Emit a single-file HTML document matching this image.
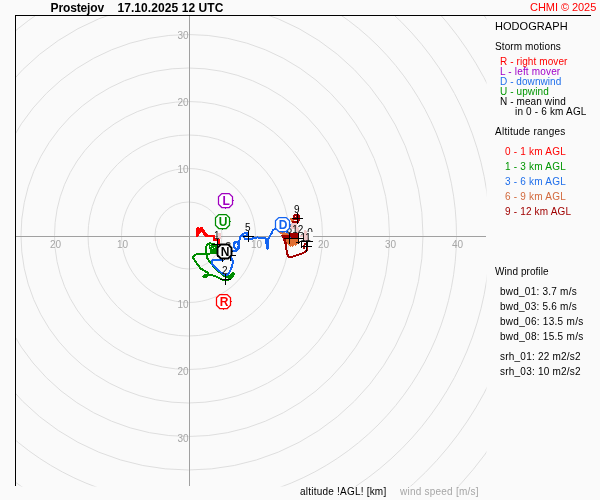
<!DOCTYPE html>
<html lang="cs">
<head>
<meta charset="utf-8">
<title>Hodograph Prostejov</title>
<style>
html,body{margin:0;padding:0;background:#fafafa;}
body{width:600px;height:500px;overflow:hidden;}
svg{display:block;font-family:"Liberation Sans",sans-serif;}
text{white-space:pre;}
</style>
</head>
<body>
<svg width="600" height="500" viewBox="0 0 600 500">
<rect x="0" y="0" width="600" height="500" fill="#fafafa"/>
<defs><clipPath id="plot"><rect x="16" y="16" width="470.5" height="470.5"/></clipPath></defs>
<g clip-path="url(#plot)" fill="none" stroke="#dedede" stroke-width="1">
<circle cx="188.5" cy="235.5" r="33.50"/>
<circle cx="188.5" cy="235.5" r="67.00"/>
<circle cx="188.5" cy="235.5" r="100.50"/>
<circle cx="188.5" cy="235.5" r="134.00"/>
<circle cx="188.5" cy="235.5" r="167.50"/>
<circle cx="188.5" cy="235.5" r="201.00"/>
<circle cx="188.5" cy="235.5" r="234.50"/>
<circle cx="188.5" cy="235.5" r="268.00"/>
<circle cx="188.5" cy="235.5" r="301.50"/>
<circle cx="188.5" cy="235.5" r="335.00"/>
<circle cx="188.5" cy="235.5" r="368.50"/>
<circle cx="188.5" cy="235.5" r="402.00"/>
</g>
<g stroke="#a0a0a0" stroke-width="1" shape-rendering="crispEdges">
<line x1="16" y1="236.5" x2="486" y2="236.5"/>
<line x1="189.5" y1="16" x2="189.5" y2="486"/>
</g>
<g>
<text x="55.5" y="248" font-size="10px" fill="#a6a6a6" text-anchor="middle">20</text>
<text x="122.5" y="248" font-size="10px" fill="#a6a6a6" text-anchor="middle">10</text>
<text x="256.5" y="248" font-size="10px" fill="#a6a6a6" text-anchor="middle">10</text>
<text x="323.5" y="248" font-size="10px" fill="#a6a6a6" text-anchor="middle">20</text>
<text x="390.5" y="248" font-size="10px" fill="#a6a6a6" text-anchor="middle">30</text>
<text x="457.5" y="248" font-size="10px" fill="#a6a6a6" text-anchor="middle">40</text>
<text x="188.6" y="39" font-size="10px" fill="#a6a6a6" text-anchor="end">30</text>
<text x="188.6" y="106" font-size="10px" fill="#a6a6a6" text-anchor="end">20</text>
<text x="188.6" y="173" font-size="10px" fill="#a6a6a6" text-anchor="end">10</text>
<text x="188.6" y="308" font-size="10px" fill="#a6a6a6" text-anchor="end">10</text>
<text x="188.6" y="375" font-size="10px" fill="#a6a6a6" text-anchor="end">20</text>
<text x="188.6" y="442" font-size="10px" fill="#a6a6a6" text-anchor="end">30</text>
</g>
<g>
<polygon points="217.5,233 221,233 221,239 217.5,239" fill="#f0c8c8" stroke="none" shape-rendering="crispEdges" />
<polygon points="196,236.5 196,230 197,227 199,227 199.7,228.3 200.3,227 202.5,227 204,229.5 208,235 214,235 215,236 215,239 220,239 220,244.5 218,244.5 217.5,241 213,241 213,237 205.5,237 203.5,234.5 201.5,231.7 198,236.5" fill="#ff0000" stroke="none" shape-rendering="crispEdges" />
<polyline points="217,245 213,244 210,243.3 207.3,244.5 206.2,247 206.2,253 207.2,258 209.3,261.5 212,264.5 216,269 221,273.5 225,276.5 229,276.5 233.5,273" fill="none" stroke="#008c00" stroke-width="2" stroke-linejoin="round" stroke-linecap="round" shape-rendering="crispEdges" />
<polygon points="209,244.5 216.8,245 216.8,253.5 211.5,253.5 209.8,251 209.3,247" fill="#008c00" stroke="none" shape-rendering="crispEdges" />
<polygon points="210,246.3 211,246.3 211,247.3 210,247.3" fill="#fafafa" stroke="none" shape-rendering="crispEdges" />
<polygon points="212.3,248.3 213.3,248.3 213.3,249.3 212.3,249.3" fill="#fafafa" stroke="none" shape-rendering="crispEdges" />
<polygon points="214.3,246.6 215.3,246.6 215.3,247.6 214.3,247.6" fill="#fafafa" stroke="none" shape-rendering="crispEdges" />
<polyline points="216.5,252.5 210,253.5 203,254 196,254.5 193,256.5 193.5,258.5 195,261 198,265 200.5,268.5 204,270.5 207.5,272.5 208,274.5 205,275 203.5,276.5 206,277 208,275 213,275.5 216,276.5 219,278 222,279.5 228,280 231,278 233.5,274.5 233.5,272.5" fill="none" stroke="#008c00" stroke-width="2" stroke-linejoin="round" stroke-linecap="round" shape-rendering="crispEdges" />
<polygon points="227.5,276 233.5,272 234.5,276 231,279" fill="#008c00" stroke="none" shape-rendering="crispEdges" />
<polygon points="203,275 208,274 208,277 203,277.5" fill="#008c00" stroke="none" shape-rendering="crispEdges" />
<polyline points="222.5,260.5 218,259.5 214,259.5 211.5,261 211.5,264 216,268 221,272.5 224,274.5 228,274.5 230,271 232,266.5 233,262 232,259 230.5,256.5 227,253 231,251 236,251 238.5,248.5 239.3,245 238,242.5 236,241.5 234,243 234,247 236.5,249.5 238.5,248.5" fill="none" stroke="#1464f0" stroke-width="2" stroke-linejoin="round" stroke-linecap="round" shape-rendering="crispEdges" />
<polyline points="234.6,243.5 234.6,247 236.5,248.8 238,248 238.5,245 237.5,243 236,242.3 234.6,243.5" fill="none" stroke="#1464f0" stroke-width="1.6" stroke-linejoin="round" stroke-linecap="round" shape-rendering="crispEdges" />
<polyline points="238.5,243 239.5,240 240.5,236.5 242.5,234 246,232.8 247.8,233.8 246.5,236.3 243.5,236.5 245,239 250.5,239.3 254,238 258,237.4 261,238.3 265,238.3 267,240 266.5,245 267,248.5 267.6,248.5 267.6,240 266.4,240.5 266.4,244 267,240 269,238 272,232.5 273,230 275.5,228.5 283,226 290,237.5" fill="none" stroke="#1464f0" stroke-width="2" stroke-linejoin="round" stroke-linecap="round" shape-rendering="crispEdges" />
<polygon points="278,231.5 283,232 288.5,233.5 288.5,235.2 283,235.2 279.5,233.5" fill="#e06e32" stroke="none" shape-rendering="crispEdges" />
<polygon points="284,238 300,238 300,243 297,244 296,246 294,245 293,247.5 291,246 290,247 288,244.5 286,244 285,241" fill="#e06e32" stroke="none" shape-rendering="crispEdges" />
<polygon points="290,218 293.5,218 293.5,222.5 291,222" fill="#e06e32" stroke="none" shape-rendering="crispEdges" />
<polygon points="293.5,213.7 298.5,213.7 298.5,215 300,215 300,221 299,221 299,222.5 291.5,222.5 291.5,220.5 296.5,220.5 296.5,219.5 293,219.5 293,215 293.5,215" fill="#a00000" stroke="none" shape-rendering="crispEdges" />
<polygon points="295,216 296,216 296,217 295,217" fill="#fafafa" stroke="none" shape-rendering="crispEdges" />
<polygon points="281,234.8 289.2,235.2 289.2,237.6 286,238 286.5,242 287.5,247 285.5,247 284,243 282.5,238" fill="#a00000" stroke="none" shape-rendering="crispEdges" />
<polyline points="286,246 287,253.5 288.5,256.5 293,256.5 296,255.5 301,254 305,252 307,250 307.5,246 305,243.5 304,246 304.5,248.5" fill="none" stroke="#a00000" stroke-width="2" stroke-linejoin="round" stroke-linecap="round" shape-rendering="crispEdges" />
<polygon points="290,233 298,233 298.5,237.5 290.5,237.5" fill="#a00000" stroke="none" shape-rendering="crispEdges" />
<polygon points="290,237 291.2,237 291.2,238.2 290,238.2" fill="#1464f0" stroke="none" shape-rendering="crispEdges" />
<path d="M212.0,244.5H223.0M217.5,239.0V250.0" stroke="#000" stroke-width="1" fill="none" shape-rendering="crispEdges"/>
<path d="M220.0,279.5H231.0M225.5,274.0V285.0" stroke="#000" stroke-width="1" fill="none" shape-rendering="crispEdges"/>
<path d="M225.0,255.5H236.0M230.5,250.0V261.0" stroke="#000" stroke-width="1" fill="none" shape-rendering="crispEdges"/>
<path d="M217.0,256.5H228.0M222.5,251.0V262.0" stroke="#000" stroke-width="1" fill="none" shape-rendering="crispEdges"/>
<path d="M243.0,236.5H254.0M248.5,231.0V242.0" stroke="#000" stroke-width="1" fill="none" shape-rendering="crispEdges"/>
<path d="M284.0,238.5H295.0M289.5,233.0V244.0" stroke="#000" stroke-width="1" fill="none" shape-rendering="crispEdges"/>
<path d="M292.0,218.5H303.0M297.5,213.0V224.0" stroke="#000" stroke-width="1" fill="none" shape-rendering="crispEdges"/>
<path d="M301.0,246.5H312.0M306.5,241.0V252.0" stroke="#000" stroke-width="1" fill="none" shape-rendering="crispEdges"/>
<text x="213.9" y="238.5" font-size="10px" fill="#000" >1</text>
<text x="221.9" y="273.5" font-size="10px" fill="#000" >2</text>
<text x="244.9" y="230.5" font-size="10px" fill="#000" >5</text>
<text x="293.9" y="212.5" font-size="10px" fill="#000" >9</text>
<text x="225.6" y="249.6" font-size="10px" fill="#000" >3</text>
<text x="286.6" y="233" font-size="10px" fill="#000" >6</text>
<text x="301.7" y="235.6" font-size="10px" fill="#000" >10</text>
<polygon points="299.2,231.6 313,231.6 313,241 299.2,241" fill="#fafafa" stroke="none" shape-rendering="crispEdges" />
<polygon points="301,228 307.3,228 307.3,231.6 301,231.6" fill="#fafafa" stroke="none" shape-rendering="crispEdges" />
<polygon points="303,229.6 306,229.6 307.5,234 309.2,240.9 303.6,240.9 303.3,234" fill="#f0c8c8" stroke="none" shape-rendering="crispEdges" />
<polygon points="300,234.5 303,234.5 303,237 300,237" fill="#f0c8c8" stroke="none" shape-rendering="crispEdges" />
<polygon points="293,225 304,225 304,233 293,233" fill="#fafafa" stroke="none" shape-rendering="crispEdges" />
<polygon points="290.8,223 297,223 297,227 299,228.5 299,232 296.2,232 296,229.3 290.8,229.3" fill="#f0c8c8" stroke="none" shape-rendering="crispEdges" />
<path d="M298.5,232.5V244M293,238.5H304M301.5,241.5V248M296,242.5H300M300,241.5H313M307.5,241.5V247" stroke="#000" stroke-width="1" fill="none" shape-rendering="crispEdges"/>
<text x="292.2" y="232.6" font-size="10px" fill="#000" >12</text>
<text x="300.4" y="240.7" font-size="10px" fill="#000" >11</text>
<polygon points="221.8,193.5 229.2,193.5 232.5,196.8 232.5,204.2 229.2,207.5 221.8,207.5 218.5,204.2 218.5,196.8" fill="#ffffff" stroke="#a000c0" stroke-width="1.25" stroke-linejoin="miter"/><path d="M232.5,200.5h1.4M225.5,207.5v1.4" stroke="#a000c0" stroke-width="1" fill="none"/><text x="226.2" y="204.9" font-size="12px" font-weight="bold" text-anchor="middle" fill="#a000c0">L</text>
<polygon points="218.8,214.5 226.2,214.5 229.5,217.8 229.5,225.2 226.2,228.5 218.8,228.5 215.5,225.2 215.5,217.8" fill="#ffffff" stroke="#008c00" stroke-width="1.25" stroke-linejoin="miter"/><path d="M229.5,221.5h1.4M222.5,228.5v1.4" stroke="#008c00" stroke-width="1" fill="none"/><text x="223.2" y="225.9" font-size="12px" font-weight="bold" text-anchor="middle" fill="#008c00">U</text>
<polygon points="220.8,244.5 228.2,244.5 231.5,247.8 231.5,255.2 228.2,258.5 220.8,258.5 217.5,255.2 217.5,247.8" fill="#ffffff" stroke="#000000" stroke-width="1.9" stroke-linejoin="miter"/><path d="M231.5,251.5h1.4M224.5,258.5v1.4" stroke="#000000" stroke-width="1" fill="none"/><text x="225.2" y="255.9" font-size="12px" font-weight="bold" text-anchor="middle" fill="#000000">N</text>
<polygon points="219.8,294.5 227.2,294.5 230.5,297.8 230.5,305.2 227.2,308.5 219.8,308.5 216.5,305.2 216.5,297.8" fill="#ffffff" stroke="#ff0000" stroke-width="1.25" stroke-linejoin="miter"/><path d="M230.5,301.5h1.4M223.5,308.5v1.4" stroke="#ff0000" stroke-width="1" fill="none"/><text x="224.2" y="305.9" font-size="12px" font-weight="bold" text-anchor="middle" fill="#ff0000">R</text>
<polygon points="278.8,217.5 286.2,217.5 289.5,220.8 289.5,228.2 286.2,231.5 278.8,231.5 275.5,228.2 275.5,220.8" fill="#ffffff" stroke="#1464f0" stroke-width="1.25" stroke-linejoin="miter"/><path d="M289.5,224.5h1.4M282.5,231.5v1.4" stroke="#1464f0" stroke-width="1" fill="none"/><text x="283.2" y="228.9" font-size="12px" font-weight="bold" text-anchor="middle" fill="#1464f0">D</text>
</g>

<g stroke="#000" stroke-width="1" shape-rendering="crispEdges">
<line x1="15" y1="15.5" x2="591" y2="15.5"/>
<line x1="15.5" y1="15" x2="15.5" y2="486"/>
</g>
<g>
<text x="50.6" y="11.7" font-size="12px" fill="#000" textLength="53.6" lengthAdjust="spacing" font-weight="bold">Prostejov</text>
<text x="117.4" y="11.7" font-size="12px" fill="#000" textLength="106" lengthAdjust="spacing" font-weight="bold">17.10.2025 12 UTC</text>
<text x="530" y="11" font-size="11px" fill="#ff0000" textLength="66.3" lengthAdjust="spacing">CHMI © 2025</text>
<text x="495" y="30" font-size="11px" fill="#000" textLength="72.6" lengthAdjust="spacing">HODOGRAPH</text>
<text x="495" y="50" font-size="10px" fill="#000" textLength="65.8" lengthAdjust="spacing">Storm motions</text>
<text x="500" y="65" font-size="10px" fill="#ff0000" textLength="67.4" lengthAdjust="spacing">R - right mover</text>
<text x="500" y="75" font-size="10px" fill="#a000c8" textLength="60.2" lengthAdjust="spacing">L - left mover</text>
<text x="500" y="85" font-size="10px" fill="#1e6eeb" textLength="61.3" lengthAdjust="spacing">D - downwind</text>
<text x="500" y="95" font-size="10px" fill="#009600" textLength="48.7" lengthAdjust="spacing">U - upwind</text>
<text x="500" y="105" font-size="10px" fill="#000" textLength="65.7" lengthAdjust="spacing">N - mean wind</text>
<text x="515" y="115" font-size="10px" fill="#000" textLength="71.4" lengthAdjust="spacing">in 0 - 6 km AGL</text>
<text x="495" y="135" font-size="10px" fill="#000" textLength="70.3" lengthAdjust="spacing">Altitude ranges</text>
<text x="505" y="155" font-size="10px" fill="#ff0000" textLength="60.7" lengthAdjust="spacing">0 - 1 km AGL</text>
<text x="505" y="170" font-size="10px" fill="#009600" textLength="60.7" lengthAdjust="spacing">1 - 3 km AGL</text>
<text x="505" y="185" font-size="10px" fill="#1e6eeb" textLength="60.7" lengthAdjust="spacing">3 - 6 km AGL</text>
<text x="505" y="200" font-size="10px" fill="#d2693c" textLength="60.7" lengthAdjust="spacing">6 - 9 km AGL</text>
<text x="505" y="215" font-size="10px" fill="#a00000" textLength="66" lengthAdjust="spacing">9 - 12 km AGL</text>
<text x="495" y="275" font-size="10px" fill="#000" textLength="53.5" lengthAdjust="spacing">Wind profile</text>
<text x="500" y="295" font-size="10px" fill="#000" textLength="76.7" lengthAdjust="spacing">bwd_01: 3.7 m/s</text>
<text x="500" y="310" font-size="10px" fill="#000" textLength="76.7" lengthAdjust="spacing">bwd_03: 5.6 m/s</text>
<text x="500" y="325" font-size="10px" fill="#000" textLength="83.2" lengthAdjust="spacing">bwd_06: 13.5 m/s</text>
<text x="500" y="340" font-size="10px" fill="#000" textLength="83.2" lengthAdjust="spacing">bwd_08: 15.5 m/s</text>
<text x="500" y="360" font-size="10px" fill="#000" textLength="80.6" lengthAdjust="spacing">srh_01: 22 m2/s2</text>
<text x="500" y="375" font-size="10px" fill="#000" textLength="80.6" lengthAdjust="spacing">srh_03: 10 m2/s2</text>
<text x="300" y="495.4" font-size="10px" fill="#000" textLength="86.2" lengthAdjust="spacing">altitude !AGL! [km]</text>
<text x="400" y="495.4" font-size="10px" fill="#a6a6a6" textLength="78.5" lengthAdjust="spacing">wind speed [m/s]</text>
</g>
</svg>
</body>
</html>
